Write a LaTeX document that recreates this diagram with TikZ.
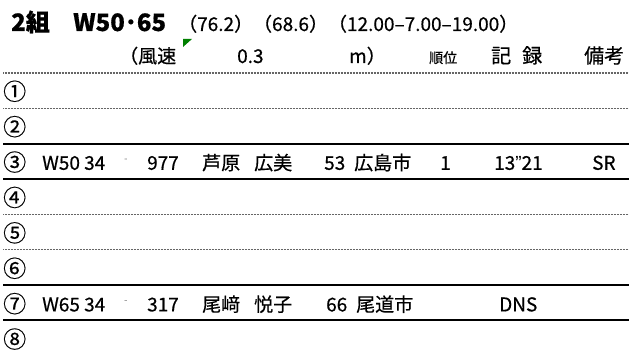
\documentclass[tikz,border=0pt]{standalone}
\usepackage{fontspec}
\setmainfont{Noto Sans CJK JP}[FakeBold=0.5]
\newfontfamily\latin{Liberation Sans}
\usetikzlibrary{positioning}
\tikzset{cell/.style={anchor=base west,inner sep=0pt,font=\fontsize{19}{19}\selectfont},
         head/.style={cell,font=\fontsize{20}{20}\selectfont},
         small head/.style={cell,font=\fontsize{14}{14}\selectfont},
         lane/.style={cell,font=\fontsize{23}{23}\selectfont},
         title/.style={cell,font=\fontsize{24}{24}\selectfont\bfseries},
         info/.style={cell,font=\fontsize{19}{19}\selectfont},
         tick/.style={cell,font=\fontsize{9}{9}\selectfont,text=black!40},
         dot rule/.style={line width=1.3pt,black!60,dash pattern=on 0.8pt off 0.7pt},
         lane rule/.style={line width=2pt},
            }

\begin{document}
\begin{tikzpicture}[x=1pt,y=-1pt]
    \useasboundingbox (0,0) rectangle (629,352);
    \node[title] (grp) at (11,31) {2組};
    \node[title] (evt) at (73,31) {W50･65};
    \node[info] (times) at (178,31) {（76.2）（68.6）（12.00–7.00–19.00）};

    \node[cell] (wind) at (119,63) {（風速};
    \fill[green!50!black] (183,39) -- (192,39) -- (183,47) -- cycle;
    \node[cell] (speed) at (237,63) {0.3};
    \node[cell] (unit) at (349,63) {m）};
    \node[small head] (rank) at (429,63) {順位};
    \node[head] (rec) at (491,63) {記\kern11pt 録};
    \node[head] (note) at (584,63) {備考};

    \foreach \k in {0,1,4,5}
        \draw[dot rule] (3,{73+35.35*\k}) -- (629,{73+35.35*\k});
    \foreach \k in {2,3,6,7}
        \draw[lane rule] (3,{73+35.35*\k}) -- (629,{73+35.35*\k});
    \foreach \n/\c in {1/①,2/②,3/③,4/④,5/⑤,6/⑥,7/⑦,8/⑧}
        \node[lane] (lane\n) at (3,{100+35.4*(\n-1)}) {\c};

    \node[cell] (cat3) at (42,169.8) {W50};
    \node[cell] (age3) at (84,169.8) {34};
    \node[tick] (dash3) at (124,161.5) {-};
    \node[cell] (bib3) at (147,169.8) {977};
    \node[cell] (fam3) at (202,169.8) {芦原};
    \node[cell] (giv3) at (254,169.8) {広美};
    \node[cell] (yrs3) at (324,169.8) {53};
    \node[cell] (city3) at (354,169.8) {広島市};
    \node[cell] (pos3) at (440,169.8) {1};
    \node[cell] (time3) at (494,169.8) {13{\latin ”}21};
    \node[cell] (mark3) at (592,169.8) {SR};

    \node[cell] (cat7) at (42,311.4) {W65};
    \node[cell] (age7) at (84,311.4) {34};
    \node[tick] (dash7) at (124,303.1) {-};
    \node[cell] (bib7) at (147,311.4) {317};
    \node[cell] (fam7) at (202,311.4) {尾﨑};
    \node[cell] (giv7) at (254,311.4) {悦子};
    \node[cell] (yrs7) at (326,311.4) {66};
    \node[cell] (city7) at (356,311.4) {尾道市};
    \node[cell] (time7) at (499,311.4) {DNS};
    %%
\end{tikzpicture}
\end{document}
